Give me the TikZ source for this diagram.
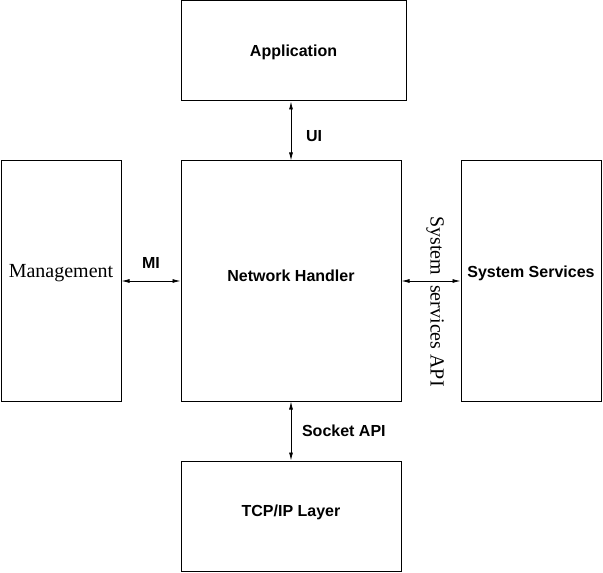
\documentclass[tikz,border=0pt]{standalone}
\usepackage{fontspec}
\setmainfont{Liberation Serif}
\setsansfont{Liberation Sans}
\usetikzlibrary{arrows.meta,positioning}
\tikzset{
	blk/.style={draw, line width=0.75pt, inner sep=0pt, font=\sffamily\bfseries\fontsize{12}{14}\selectfont},
	lbl/.style={inner sep=0pt, font=\sffamily\bfseries\fontsize{12}{14}\selectfont},
	rmlbl/.style={inner sep=0pt, font=\rmfamily\fontsize{15}{17}\selectfont},
	link/.style={line width=0.6pt, {Latex[length=6pt,width=3pt]}-{Latex[length=6pt,width=3pt]}}
}
\begin{document}
\begin{tikzpicture}[x=0.75pt, y=-0.75pt]
	\useasboundingbox (0,0) rectangle (603,573);
	% blocks
	\node[blk, minimum width=168.75pt, minimum height=75pt, text depth=0pt] (app) at (293.5,51) {Application};
	\node[blk, minimum width=165pt, minimum height=180pt, text depth=7.5pt] (nh) at (291,281) {Network Handler};
	\node[blk, minimum width=90pt, minimum height=180pt, text depth=15pt, font=\rmfamily\fontsize{15}{17}\selectfont] (mgmt) at (61,281) {Management};
	\node[blk, minimum width=105pt, minimum height=180pt, text depth=14.5pt] (sys) at (531,281) {System Services};
	\node[blk, minimum width=165pt, minimum height=82.5pt, text depth=8.5pt] (tcp) at (291,516) {TCP/IP Layer};

	% interfaces
	\draw[link] (nh.north) -- node[lbl, right=11pt, yshift=-4pt] (ui) {UI} (nh.north |- app.south);
	\draw[link] (mgmt.east) -- node[lbl, above=9pt] (mi) {MI} (nh.west);
	\draw[link] (nh.east) -- (sys.west);
	\node[rmlbl, rotate=-90] (sapi) at (435,301.5) {System\enspace services API};
	\draw[link] (nh.south) -- node[lbl, right=8pt] (sock) {Socket API} (tcp.north);
\end{tikzpicture}
\end{document}
